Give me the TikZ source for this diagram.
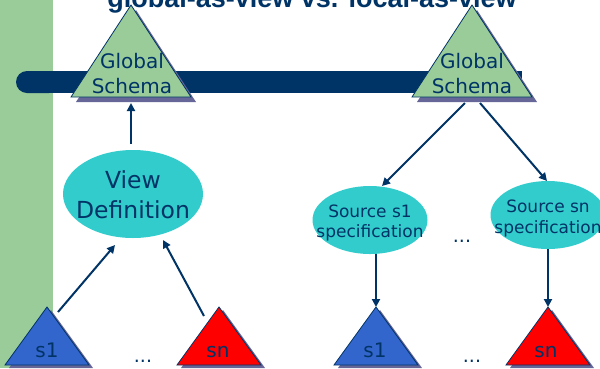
\documentclass[tikz,border=0pt]{standalone}
\usepackage{fontspec}
\setmainfont{DejaVu Sans}
\newfontfamily\titlefont{Liberation Sans}
\usetikzlibrary{arrows.meta,shapes.geometric}
\definecolor{navy}{HTML}{003366}
\definecolor{lgreen}{HTML}{99CC99}
\definecolor{shad}{HTML}{666699}
\definecolor{cyanf}{HTML}{33CCCC}
\definecolor{blues}{HTML}{3366CC}
\definecolor{reds}{HTML}{FF0000}
\tikzset{
  tri/.style={draw=navy, line width=0.8pt, line join=miter},
  shadowtri/.style={fill=shad},
  lbl/.style={text=navy, inner sep=0pt, align=center},
  ell/.style={ellipse, fill=cyanf, inner sep=0pt},
  conn/.style={draw=navy, line width=2pt, -{Triangle[length=8pt,width=8pt]}},
  dots/.style={text=navy, font=\fontsize{19}{19}\selectfont, inner sep=0pt}
}
\begin{document}
\begin{tikzpicture}[x=1pt,y=-1pt]
\clip (0,0) rectangle (600,368);
\fill[white] (0,0) rectangle (600,368);
% left green bar
\fill[lgreen] (0,0) rectangle (53,368);
% title (cut at the top edge, as in the reference)
\node[anchor=base, text=navy, inner sep=0pt, font=\titlefont\bfseries\fontsize{27}{27}\selectfont] (title) at (312,7) {global-as-view vs. local-as-view};
% navy bar
\fill[navy, rounded corners=11pt] (16,71) rectangle (60,93);
\fill[navy] (40,71) rectangle (522,93);
% ---- Global schema triangles
\foreach \cx in {131,472} {
  \fill[shadowtri] (\cx+5,10) -- (\cx+65,102) -- (\cx-55,102) -- cycle;
  \filldraw[tri, fill=lgreen] (\cx,5) -- (\cx+60,97) -- (\cx-60,97) -- cycle;
}
\node[lbl, font=\fontsize{20}{25}\selectfont, anchor=base] (gsL) at (132,93) {Global\\Schema};
\node[lbl, font=\fontsize{20}{25}\selectfont, anchor=base] (gsR) at (472,93) {Global\\Schema};
% ---- source triangles
\foreach \cx/\col in {47/blues,219/reds,376/blues,548/reds} {
  \fill[shadowtri] (\cx+4,310) -- (\cx+46,368) -- (\cx-38,368) -- cycle;
  \filldraw[tri, fill=\col] (\cx,307) -- (\cx+42,365) -- (\cx-42,365) -- cycle;
}
\node[lbl, font=\fontsize{20}{20}\selectfont, anchor=base] (s1L) at (47,357) {s1};
\node[lbl, font=\fontsize{20}{20}\selectfont, anchor=base] (snL) at (218,357) {sn};
\node[lbl, font=\fontsize{20}{20}\selectfont, anchor=base] (s1R) at (375,357) {s1};
\node[lbl, font=\fontsize{20}{20}\selectfont, anchor=base] (snR) at (546,357) {sn};
% ---- ellipses
\node[ell, minimum width=140pt, minimum height=88pt] (vd) at (133,194) {};
\node[lbl, font=\fontsize{23.5}{30}\selectfont, anchor=base] (vdt) at (133,218) {View\\Definition};
\node[ell, minimum width=115pt, minimum height=68pt] (ss1) at (370,220) {};
\node[lbl, font=\fontsize{17}{20}\selectfont, anchor=base] (ss1t) at (370,237) {Source s1\\specification};
\node[ell, minimum width=115pt, minimum height=68pt] (ssn) at (548,215) {};
\node[lbl, font=\fontsize{17}{21}\selectfont, anchor=base] (ssnt) at (548,233) {Source sn\\specification};
% ---- dots
\node[dots, anchor=base] (d1) at (143,362) {...};
\node[dots, anchor=base] (d2) at (472,362) {...};
\node[dots, anchor=base] (d3) at (462,242) {...};
% ---- connector end points
\coordinate (gsLb) at (131,103);
\coordinate (vdtop) at (131,144);
\coordinate (s1Lt) at (58,312);
\coordinate (vdbl) at (115,245);
\coordinate (snLt) at (204,316);
\coordinate (vdbr) at (163,240);
\coordinate (gsRb1) at (465,103);
\coordinate (gsRb2) at (480,103);
\coordinate (ss1top) at (382,186);
\coordinate (ssntop) at (547,181);
\coordinate (ss1b) at (376,254);
\coordinate (ssnb) at (548,249);
\coordinate (s1Rt) at (376,307);
\coordinate (snRt) at (548,307);
% ---- connectors
\draw[conn] (vdtop) -- (gsLb);
\draw[conn] (s1Lt) -- (vdbl);
\draw[conn] (snLt) -- (vdbr);
\draw[conn] (gsRb1) -- (ss1top);
\draw[conn] (gsRb2) -- (ssntop);
\draw[conn] (ss1b) -- (s1Rt);
\draw[conn] (ssnb) -- (snRt);
\end{tikzpicture}
\end{document}
